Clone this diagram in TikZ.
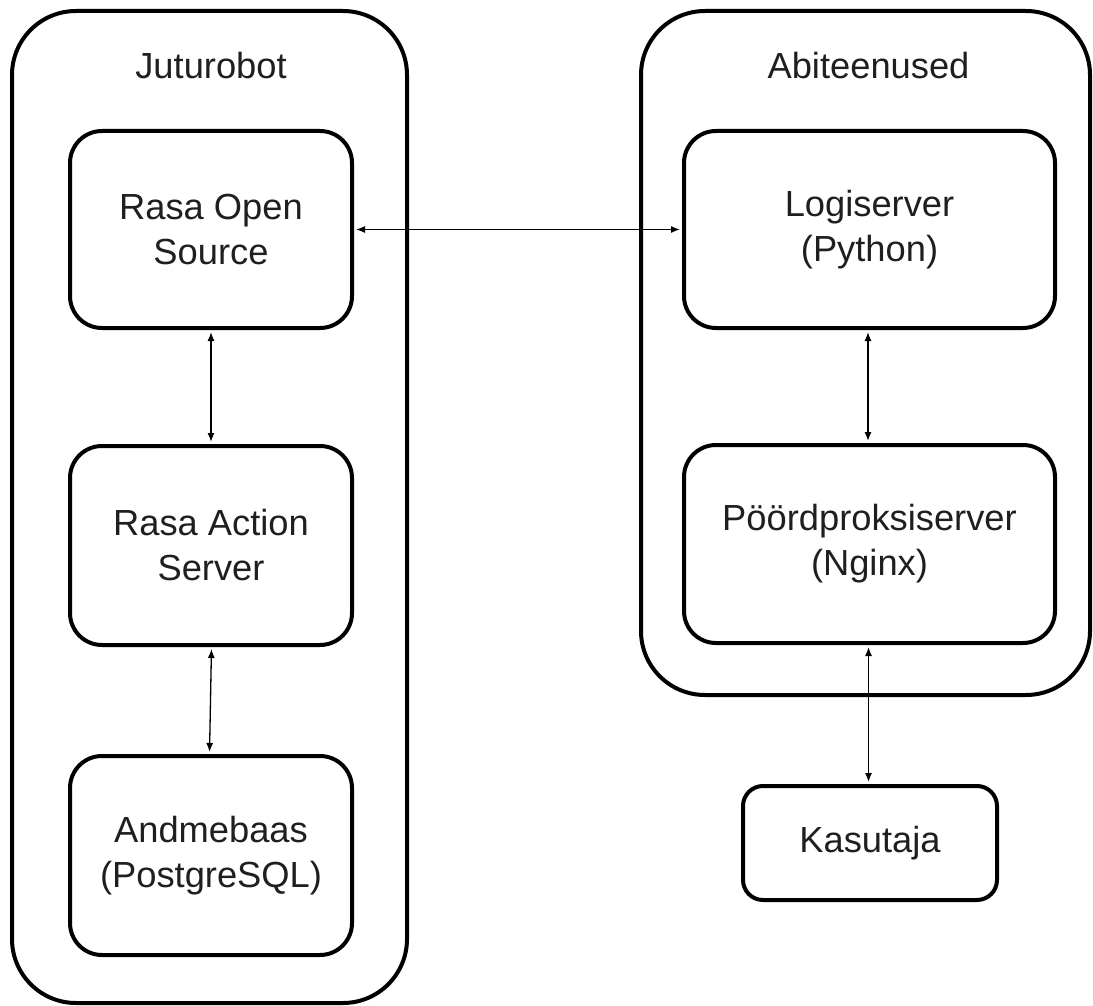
\documentclass[tikz,border=0pt]{standalone}
\usepackage{fontspec}
\setmainfont{Liberation Sans}
\usetikzlibrary{arrows.meta}
\begin{document}
\begin{tikzpicture}[x=1pt,y=-1pt,
  every node/.style={font=\fontsize{36.3}{45}\selectfont, inner sep=0pt, text=black!88},
  groupbox/.style={draw=black, line width=4pt, rounded corners=64pt},
  compbox/.style={draw=black, line width=4pt, rounded corners=32pt, align=center, minimum width=282pt},
  grouplabel/.style={anchor=base},
  link/.style={line width=1.3pt, {Latex[length=9pt,width=7pt]}-{Latex[length=9pt,width=7pt]}, shorten <=2pt, shorten >=2pt}
]
\useasboundingbox (0,0) rectangle (1093,1006);
% groups
\node[groupbox, minimum width=395pt, minimum height=992pt] (jutu) at (209.5,507) {};
\node[groupbox, minimum width=449pt, minimum height=684pt] (abi) at (865.5,353) {};
\node[grouplabel] (jutulabel) at (211,79) {Juturobot};
\node[grouplabel] (abilabel) at (868.5,79) {Abiteenused};
% components
\node[compbox, minimum height=197pt] (rasa) at (211,229.5) {Rasa Open\\Source};
\node[compbox, minimum height=199pt] (action) at (211,545.5) {Rasa Action\\Server};
\node[compbox, minimum height=199pt] (andme) at (211,855.5) {Andmebaas\\(PostgreSQL)};
\node[compbox, minimum width=371pt, minimum height=197pt] (logi) at (869.5,229.5) {Logiserver\\(Python)};
\node[compbox, minimum width=371pt, minimum height=198pt] (poord) at (869.5,544) {Pöördproksiserver\\(Nginx)};
\node[compbox, rounded corners=20pt, minimum width=254pt, minimum height=114pt] (kasu) at (870,843) {Kasutaja};
% connectors
\draw[link] (rasa.east) -- (logi.west);
\draw[link] (rasa.south) -- (action.north);
\draw[link] ([xshift=0.5pt]action.south) -- ([xshift=-1.5pt]andme.north);
\draw[link] ([xshift=-1.5pt]logi.south) -- ([xshift=-1.5pt]poord.north);
\draw[link] ([xshift=-1pt]poord.south) -- ([xshift=-1.5pt]kasu.north);
\end{tikzpicture}
\end{document}
